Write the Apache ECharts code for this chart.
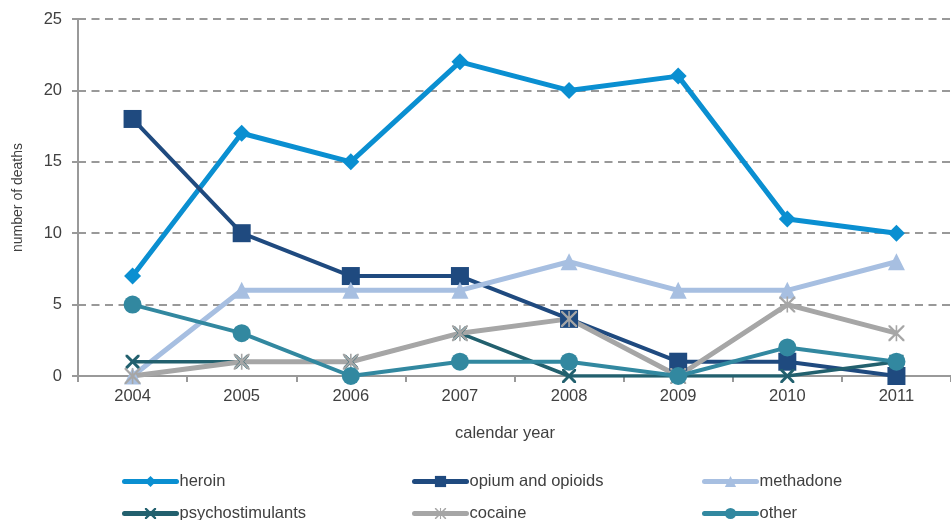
<!DOCTYPE html>
<html>
<head>
<meta charset="utf-8">
<script src="https://cdn.jsdelivr.net/npm/echarts@6/dist/echarts.min.js"></script>
<style>
  html, body { margin: 0; padding: 0; background: #fff; }
  #chart { width: 951px; height: 520px; }
</style>
</head>
<body>
<div id="chart"></div>
<script>
  // values
  let years = ['2004', '2005', '2006', '2007', '2008', '2009', '2010', '2011'];
  let heroin = [7, 17, 15, 22, 20, 21, 11, 10];
  let opium = [18, 10, 7, 7, 4, 1, 1, 0];
  let methadone = [0, 6, 6, 6, 8, 6, 6, 8];
  let psychostimulants = [1, 1, 1, 3, 0, 0, 0, 1];
  let cocaine = [0, 1, 1, 3, 4, 0, 5, 3];
  let other = [5, 3, 0, 1, 1, 0, 2, 1];

  let cross = 'path://M0,0 L3,0 L10,7 L17,0 L20,0 L20,3 L13,10 L20,17 L20,20 L17,20 L10,13 L3,20 L0,20 L0,17 L7,10 L0,3 Z';
  let star = 'path://M0,0 L2,0 L10,8 L18,0 L20,0 L20,2 L12,10 L20,18 L20,20 L18,20 L10,12 L2,20 L0,20 L0,18 L8,10 L0,2 Z M9,0 L11,0 L11,20 L9,20 Z';

  let font = 'Liberation Sans';
  let textColor = '#404040';
  let gray = '#999999';

  let chart = echarts.init(document.getElementById('chart'));

  let makeSeries = (name, data, color, symbol, size, width) => {
    return {
      name: name,
      type: 'line',
      data: data,
      symbol: symbol,
      symbolSize: size,
      showAllSymbol: true,
      lineStyle: { color: color, width: width },
      itemStyle: { color: color, borderWidth: 0 },
      emphasis: { disabled: true },
      animation: false
    };
  };

  // one legend per item so the 3x2 layout sits where it does in the picture
  let legendAt = (name, left, top) => {
    return {
      data: [name],
      left: left,
      top: top,
      padding: 0,
      itemWidth: 52,
      itemHeight: 14,
      selectedMode: false,
      lineStyle: { width: 5, cap: 'round' },
      textStyle: { fontFamily: font, fontSize: 16.5, color: textColor, padding: [0, 0, 0, -2] }
    };
  };

  chart.setOption({
    textStyle: { fontFamily: font },
    grid: { left: 78, right: -7, top: 19, bottom: 144 },
    title: {
      text: 'calendar year',
      left: 455,
      top: 425,
      padding: 0,
      textStyle: { fontFamily: font, fontSize: 16.5, fontWeight: 'normal', color: textColor }
    },
    legend: [
      legendAt('heroin', 122, 473),
      legendAt('opium and opioids', 412, 473),
      legendAt('methadone', 702, 473),
      legendAt('psychostimulants', 122, 505),
      legendAt('cocaine', 412, 505),
      legendAt('other', 702, 505)
    ],
    xAxis: {
      type: 'category',
      data: years,
      boundaryGap: true,
      axisLine: { lineStyle: { color: gray, width: 2 } },
      axisTick: { show: true, length: 6, lineStyle: { color: gray, width: 2 } },
      axisLabel: { color: textColor, fontSize: 16.5, margin: 12 }
    },
    yAxis: {
      type: 'value',
      min: 0,
      max: 25,
      interval: 5,
      name: 'number of deaths',
      nameLocation: 'middle',
      nameGap: 53,
      nameTextStyle: { color: textColor, fontSize: 14 },
      axisLine: { show: true, lineStyle: { color: gray, width: 2 } },
      axisTick: { show: true, length: 6, lineStyle: { color: gray, width: 2 } },
      axisLabel: { color: textColor, fontSize: 16.5, margin: 16 },
      splitLine: { lineStyle: { color: gray, width: 2, type: [8, 5.5] } }
    },
    series: [
      makeSeries('heroin', heroin, '#0a8fd1', 'diamond', 17, 5),
      makeSeries('opium and opioids', opium, '#1f4a7f', 'rect', 18, 4),
      makeSeries('methadone', methadone, '#a7bfe1', 'triangle', 17, 5),
      makeSeries('psychostimulants', psychostimulants, '#22606e', cross, 14, 3.5),
      makeSeries('cocaine', cocaine, '#a6a6a6', star, 16, 5),
      makeSeries('other', other, '#3288a0', 'circle', 18, 4)
    ]
  });
</script>
</body>
</html>
